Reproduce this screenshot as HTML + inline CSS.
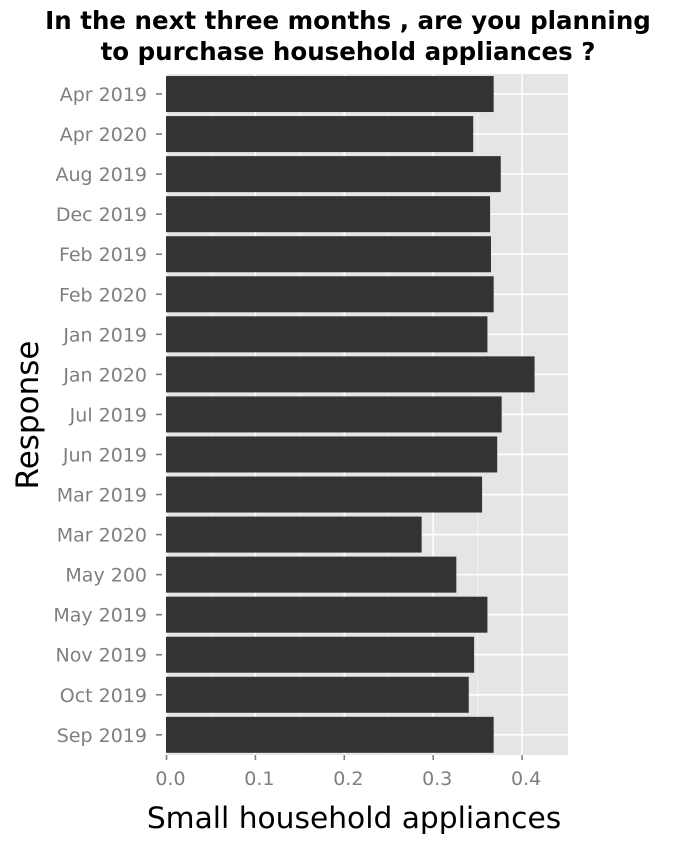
<!DOCTYPE html>
<html><head><meta charset="utf-8"><style>
body{margin:0;background:#fff;}
svg text{font-family:"DejaVu Sans","Liberation Sans",sans-serif;}
</style></head><body>
<svg id="chart" width="698" height="844" xmlns="http://www.w3.org/2000/svg">
<text x="348" y="29" text-anchor="middle" font-size="24.5" font-weight="bold">In the next three months , are you planning</text>
<text x="348" y="60" text-anchor="middle" font-size="24.5" font-weight="bold">to purchase household appliances ?</text>
<rect x="166" y="74" width="402" height="681" fill="#e5e5e5"/>
<g id="grid"></g><g id="bars"></g><g id="yaxis"></g><g id="xaxis"></g>
<text x="354" y="828" text-anchor="middle" font-size="29.7">Small household appliances</text>
<text transform="translate(38,415) rotate(-90)" text-anchor="middle" font-size="31">Response</text>
</svg>
<script>
const categories=["Apr 2019","Apr 2020","Aug 2019","Dec 2019","Feb 2019","Feb 2020","Jan 2019","Jan 2020","Jul 2019","Jun 2019","Mar 2019","Mar 2020","May 200","May 2019","Nov 2019","Oct 2019","Sep 2019"];
const values=[0.368,0.345,0.376,0.364,0.365,0.368,0.361,0.414,0.377,0.372,0.355,0.287,0.326,0.361,0.346,0.340,0.368];
const xTicks=[0,0.1,0.2,0.3,0.4];
const xTickLabels=["0.0","0.1","0.2","0.3","0.4"];
const NS="http://www.w3.org/2000/svg";
const x0=166.5,xs=889,panelTop=74,band=40.05;
const X=v=>x0+v*xs, Y=i=>panelTop+i*band;
function mk(t,a,p){const e=document.createElementNS(NS,t);for(const k in a)e.setAttribute(k,a[k]);document.getElementById(p).appendChild(e);return e;}
xTicks.forEach((t,i)=>{
 if(i<xTicks.length-1){const l=mk('line',{x1:X(t+0.05),x2:X(t+0.05),y1:74,y2:755,stroke:'#f2f2f2','stroke-width':1},'grid');
 
 }
 const g=mk('line',{x1:X(t),x2:X(t),y1:74,y2:755,stroke:'#fff','stroke-width':1.6},'grid');
 
 
 const tk=mk('line',{x1:X(t),x2:X(t),y1:755,y2:760,stroke:'#7f7f7f','stroke-width':1.6},'xaxis');
 
 
 const tx=mk('text',{x:X(t)+4,y:785,'text-anchor':'middle','font-size':19,fill:'#7f7f7f'},'xaxis');
 tx.textContent=xTickLabels[i];
 
 
});
categories.forEach((c,i)=>{
 const cy=Y(i)+band/2;
 const h=mk('line',{x1:166,x2:568,y1:cy,y2:cy,stroke:'#fff','stroke-width':1.6},'grid');
 
 
 const r=mk('rect',{x:166,y:cy-18,width:X(values[i])-166,height:36,fill:'#333333'},'bars');
 
 
 const tk=mk('line',{x1:156,x2:162,y1:cy,y2:cy,stroke:'#7f7f7f','stroke-width':1.6},'yaxis');
 
 
 const t=mk('text',{x:147,y:cy+7,'text-anchor':'end','font-size':19,fill:'#7f7f7f'},'yaxis');
 t.textContent=c;
 
 
});
</script>
</body></html>
